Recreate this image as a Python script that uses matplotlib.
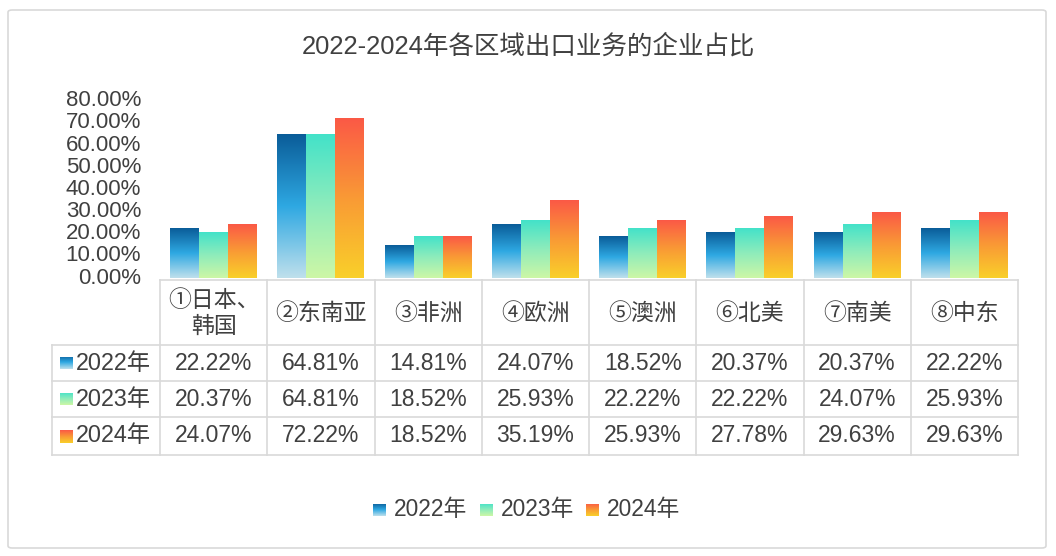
import numpy as np
import matplotlib.pyplot as plt
from matplotlib.colors import LinearSegmentedColormap
from matplotlib.patches import FancyBboxPatch

plt.rcParams['font.family'] = ['Liberation Sans', 'Noto Sans CJK SC', 'DejaVu Sans']

# data
regions = ['①日本、\n韩国', '②东南亚', '③非洲', '④欧洲', '⑤澳洲', '⑥北美', '⑦南美', '⑧中东']
years = ['2022年', '2023年', '2024年']
v2022 = [22.22, 64.81, 14.81, 24.07, 18.52, 20.37, 20.37, 22.22]
v2023 = [20.37, 64.81, 18.52, 25.93, 22.22, 22.22, 24.07, 25.93]
v2024 = [24.07, 72.22, 18.52, 35.19, 25.93, 27.78, 29.63, 29.63]
series = [v2022, v2023, v2024]
y_ticks = [0, 10, 20, 30, 40, 50, 60, 70, 80]

# gradients top -> bottom
grads = [
    ['#0a5c98', '#2ea8e2', '#bfe0ec'],
    ['#43e2c9', '#8eecbb', '#cdf7a6'],
    ['#fb5946', '#f99a35', '#f9d02a'],
]
cmaps = [LinearSegmentedColormap.from_list('g%d' % i, g[::-1]) for i, g in enumerate(grads)]

W, H = 1056, 556
fig = plt.figure(figsize=(W / 100, H / 100), dpi=100)

def fx(x):
    return x / W

def fy(y):
    return 1 - y / H

# outer frame
fig.patches.append(FancyBboxPatch((fx(8), fy(548)), fx(1038), 538 / H,
                                  boxstyle='round,pad=0,rounding_size=0.004',
                                  transform=fig.transFigure, fill=False,
                                  edgecolor='#d9d9d9', linewidth=1.2))

txt = '#404040'
fig.text(fx(528), fy(46), '2022-2024年各区域出口业务的企业占比', ha='center', va='center',
         fontsize=18.4, color=txt)

left, right, top, bottom = 160, 1018, 100.8, 278
ax = fig.add_axes([fx(left), fy(bottom), fx(right - left), (bottom - top) / H])
ax.set_xlim(0, len(regions))
ax.set_ylim(0, 80)
ax.axis('off')

grad = np.linspace(0, 1, 256).reshape(-1, 1)
bw = 0.27
for i, vals in enumerate(series):
    for j, v in enumerate(vals):
        x0 = j + 0.5 + (i - 1.5) * bw
        ax.imshow(grad, cmap=cmaps[i], extent=(x0, x0 + bw, 0, v), origin='lower',
                  aspect='auto', interpolation='bilinear')
ax.set_xlim(0, len(regions))
ax.set_ylim(0, 80)

# y tick labels
for t in y_ticks:
    fig.text(fx(141), fy(bottom - t * (bottom - top) / 80), '%.2f%%' % t, ha='right',
             va='center', fontsize=16, color=txt)

# table
lc = '#d9d9d9'
cw = (right - left) / len(regions)
rows_y = [280, 345, 381, 417, 455]
hdr_l = 52
for k in range(len(regions) + 1):
    x = left + k * cw
    fig.add_artist(plt.Line2D([fx(x), fx(x)], [fy(rows_y[0]), fy(rows_y[-1])],
                              color=lc, lw=1.2))
fig.add_artist(plt.Line2D([fx(hdr_l), fx(hdr_l)], [fy(rows_y[1]), fy(rows_y[-1])],
                          color=lc, lw=1.2))
fig.add_artist(plt.Line2D([fx(left), fx(right)], [fy(rows_y[0]), fy(rows_y[0])],
                          color=lc, lw=1.2))
for y in rows_y[1:]:
    fig.add_artist(plt.Line2D([fx(hdr_l), fx(right)], [fy(y), fy(y)], color=lc, lw=1.2))

for j, r in enumerate(regions):
    cx = left + (j + 0.5) * cw
    fig.text(fx(cx), fy((rows_y[0] + rows_y[1]) / 2 + 1), r, ha='center', va='center',
             fontsize=16.5, color=txt, linespacing=1.2)

def swatch(x, y, i, size=13):
    sax = fig.add_axes([fx(x), fy(y + size / 2), fx(size), size / H])
    sax.imshow(grad, cmap=cmaps[i], origin='lower', aspect='auto', extent=(0, 1, 0, 1))
    sax.axis('off')

for i, vals in enumerate(series):
    cy = (rows_y[i + 1] + rows_y[i + 2]) / 2
    swatch(60, cy, i)
    fig.text(fx(76), fy(cy), years[i], ha='left', va='center', fontsize=16.8, color=txt)
    for j, v in enumerate(vals):
        cx = left + (j + 0.5) * cw
        fig.text(fx(cx), fy(cy), '%.2f%%' % v, ha='center', va='center',
                 fontsize=16.5, color=txt)

# legend
leg_x = [373, 480, 586]
for i in range(3):
    swatch(leg_x[i], 510, i)
    fig.text(fx(leg_x[i] + 21), fy(510), years[i], ha='left', va='center',
             fontsize=16.4, color=txt)

fig.savefig('out.png', dpi=100, facecolor='white')
